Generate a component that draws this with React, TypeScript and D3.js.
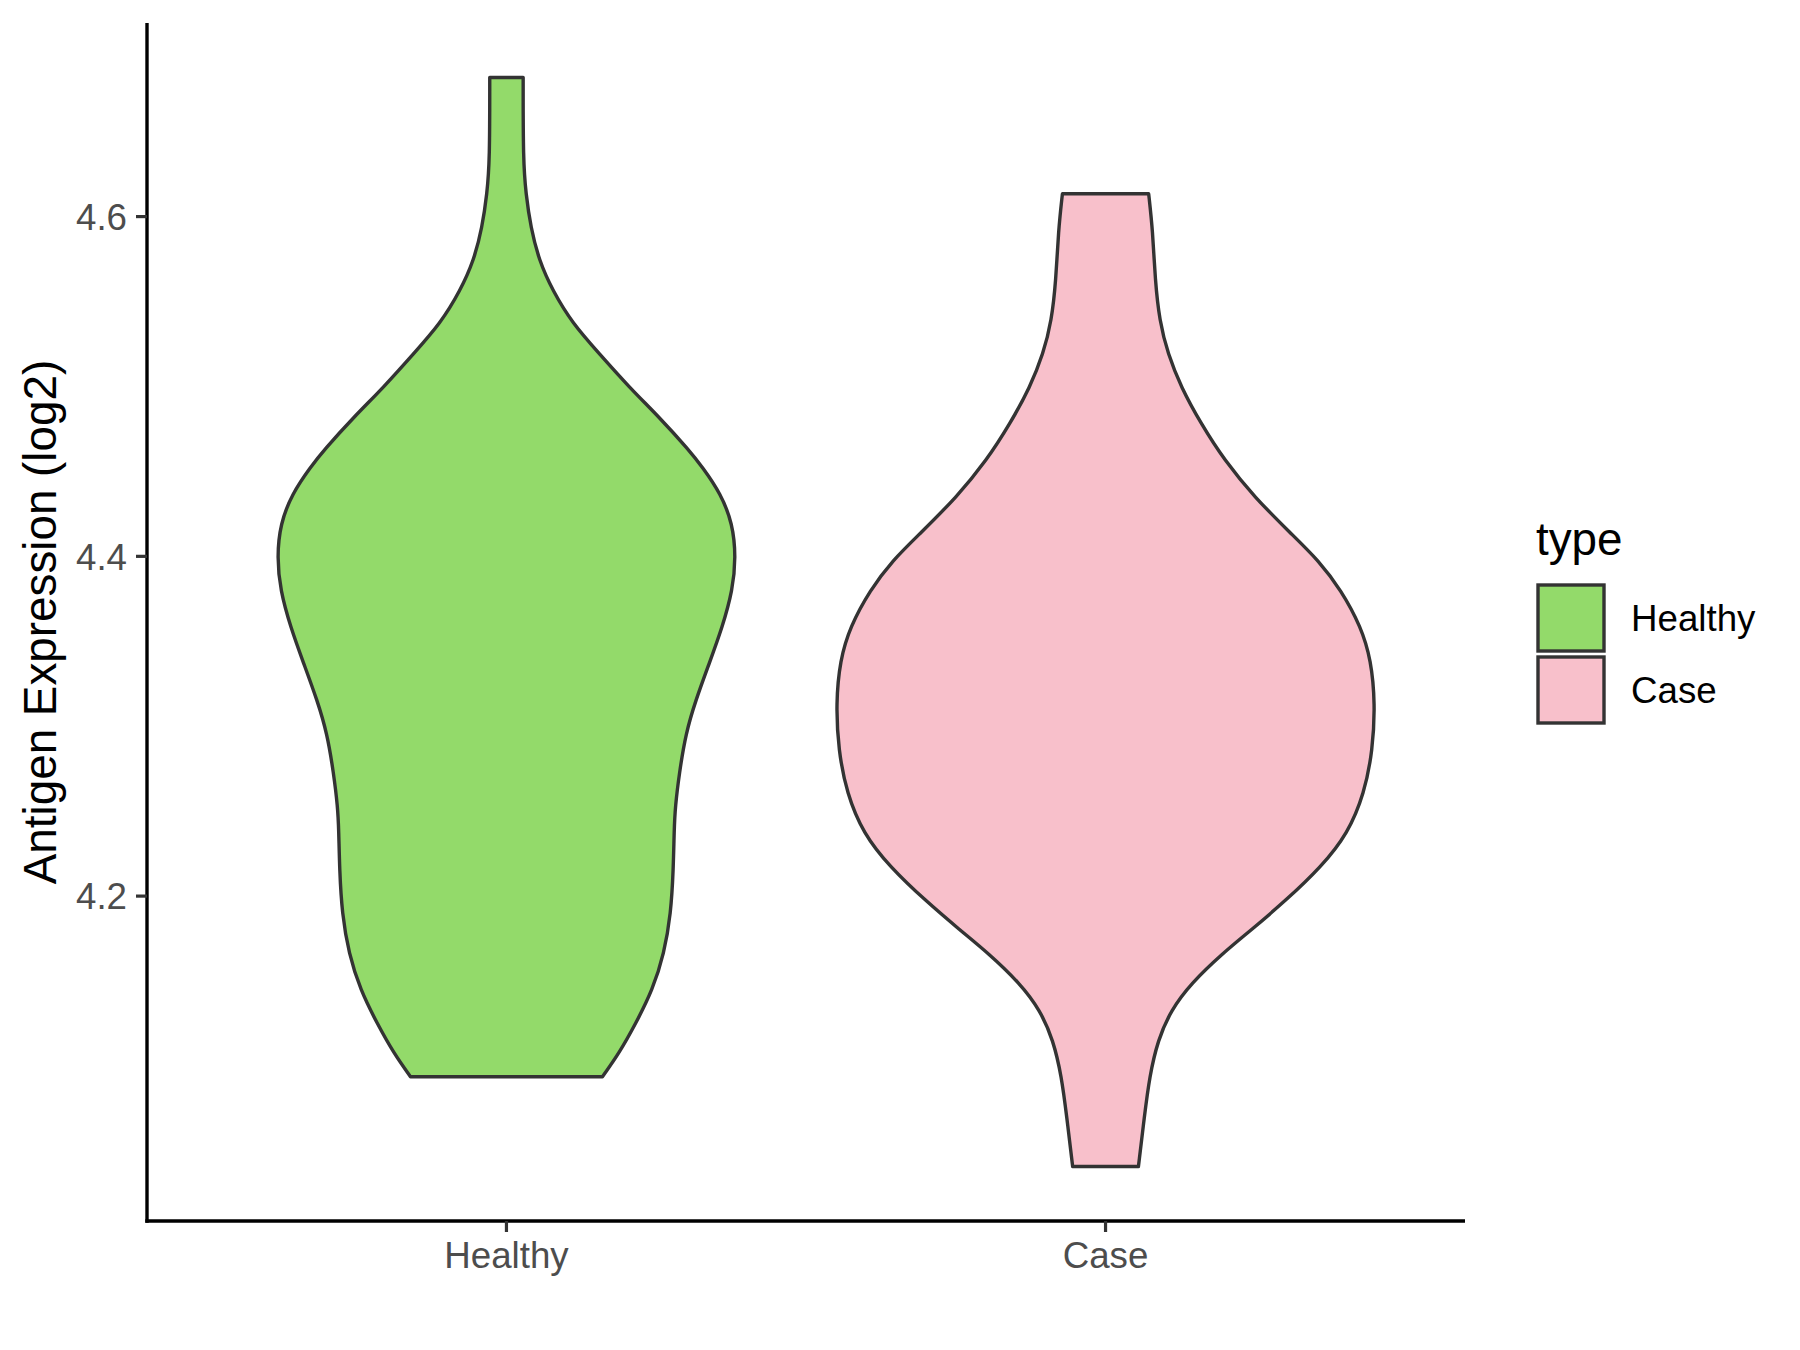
import React from "react";
import * as d3 from "d3";

const categories = ["Healthy", "Case"];
const fills = ["#93DA6A", "#F8C0CB"];
const yTicks = [4.2, 4.4, 4.6];

// Violin outlines: expression value and relative density (half-width)
const healthyValues = [4.0937, 4.1075, 4.1251, 4.1447, 4.1663, 4.1898, 4.2153, 4.2388, 4.2525, 4.2722, 4.2957, 4.3153, 4.3369, 4.3584, 4.38, 4.3996, 4.4192, 4.4369, 4.4525, 4.4624, 4.4819, 4.4996, 4.5194, 4.5371, 4.5565, 4.5741, 4.5937, 4.6135, 4.6329, 4.6819];
const healthyDensity = [0.356, 0.418, 0.48, 0.542, 0.585, 0.61, 0.619, 0.622, 0.626, 0.641, 0.665, 0.702, 0.752, 0.801, 0.839, 0.851, 0.839, 0.795, 0.727, 0.678, 0.567, 0.455, 0.344, 0.245, 0.171, 0.121, 0.09, 0.072, 0.062, 0.062];

const caseValues = [4.0408, 4.0702, 4.0937, 4.1153, 4.1329, 4.1486, 4.1663, 4.18, 4.1976, 4.2172, 4.2369, 4.2606, 4.2859, 4.3135, 4.3388, 4.3584, 4.38, 4.3977, 4.4134, 4.4349, 4.4565, 4.4781, 4.4996, 4.5192, 4.5388, 4.5624, 4.5918, 4.6134];
const caseDensity = [0.122, 0.144, 0.163, 0.194, 0.243, 0.317, 0.434, 0.54, 0.67, 0.8, 0.899, 0.96, 0.991, 1.0, 0.985, 0.948, 0.874, 0.79, 0.688, 0.552, 0.441, 0.354, 0.28, 0.231, 0.2, 0.184, 0.175, 0.16];

const seriesValues = [healthyValues, caseValues];
const seriesDensity = [healthyDensity, caseDensity];

export default function App() {
  const W = 1800, H = 1350;
  const left = 147, right = 1465, top = 23, bottom = 1221;

  const allVals = seriesValues.flat();
  const vmin = d3.min(allVals) as number;
  const vmax = d3.max(allVals) as number;
  const r = vmax - vmin;
  const y = d3.scaleLinear().domain([vmin - 0.05 * r, vmax + 0.05 * r]).range([bottom, top]);
  const x = d3.scalePoint<string>().domain(categories).range([left, right]).padding(0.6);
  const step = x.step();
  const wScale = d3.scaleLinear().domain([0, 1]).range([0, 0.45 * step]);

  const font = "'Liberation Sans', Arial, sans-serif";

  return (
    <svg width={W} height={H} style={{ position: "absolute", left: 0, top: 0, background: "#fff" }}>
      <rect x={0} y={0} width={W} height={H} fill="#fff" />
      {categories.map((c, i) => {
        const cx = x(c) as number;
        const pts = seriesValues[i].map((v, j) => ({ v, d: seriesDensity[i][j] }));
        const area = d3
          .area<{ v: number; d: number }>()
          .y((p) => y(p.v))
          .x0((p) => cx - wScale(p.d))
          .x1((p) => cx + wScale(p.d))
          .curve(d3.curveBasis);
        return (
          <path key={c} d={area(pts) || ""} fill={fills[i]} stroke="#333333" strokeWidth={3.4} strokeLinejoin="round" />
        );
      })}
      {/* axes */}
      <line x1={left} x2={left} y1={top} y2={bottom + 1.7} stroke="#000" strokeWidth={3.4} />
      <line x1={left - 1.7} x2={right} y1={bottom} y2={bottom} stroke="#000" strokeWidth={3.4} />
      {yTicks.map((t) => (
        <g key={t}>
          <line x1={left - 11} x2={left} y1={y(t)} y2={y(t)} stroke="#333333" strokeWidth={3.2} />
          <text x={127} y={y(t)} dy="0.36em" textAnchor="end" fontFamily={font} fontSize={36.7} fill="#4D4D4D">
            {t.toFixed(1)}
          </text>
        </g>
      ))}
      {categories.map((c) => (
        <g key={c}>
          <line x1={x(c)} x2={x(c)} y1={bottom} y2={bottom + 11} stroke="#333333" strokeWidth={3.2} />
          <text x={x(c)} y={1268} textAnchor="middle" fontFamily={font} fontSize={36.7} fill="#4D4D4D">
            {c}
          </text>
        </g>
      ))}
      <text
        transform={`translate(56,${(top + bottom) / 2}) rotate(-90)`}
        textAnchor="middle"
        fontFamily={font}
        fontSize={45.8}
        fill="#000"
      >
        Antigen Expression (log2)
      </text>
      {/* legend */}
      <text x={1536} y={555} fontFamily={font} fontSize={45.8} fill="#000">type</text>
      {categories.map((c, i) => (
        <g key={c}>
          <rect x={1538} y={585 + i * 72} width={66} height={66} fill={fills[i]} stroke="#333333" strokeWidth={3.4} />
          <text x={1631} y={585 + i * 72 + 33} dy="0.36em" fontFamily={font} fontSize={36.7} fill="#000">
            {c}
          </text>
        </g>
      ))}
    </svg>
  );
}
